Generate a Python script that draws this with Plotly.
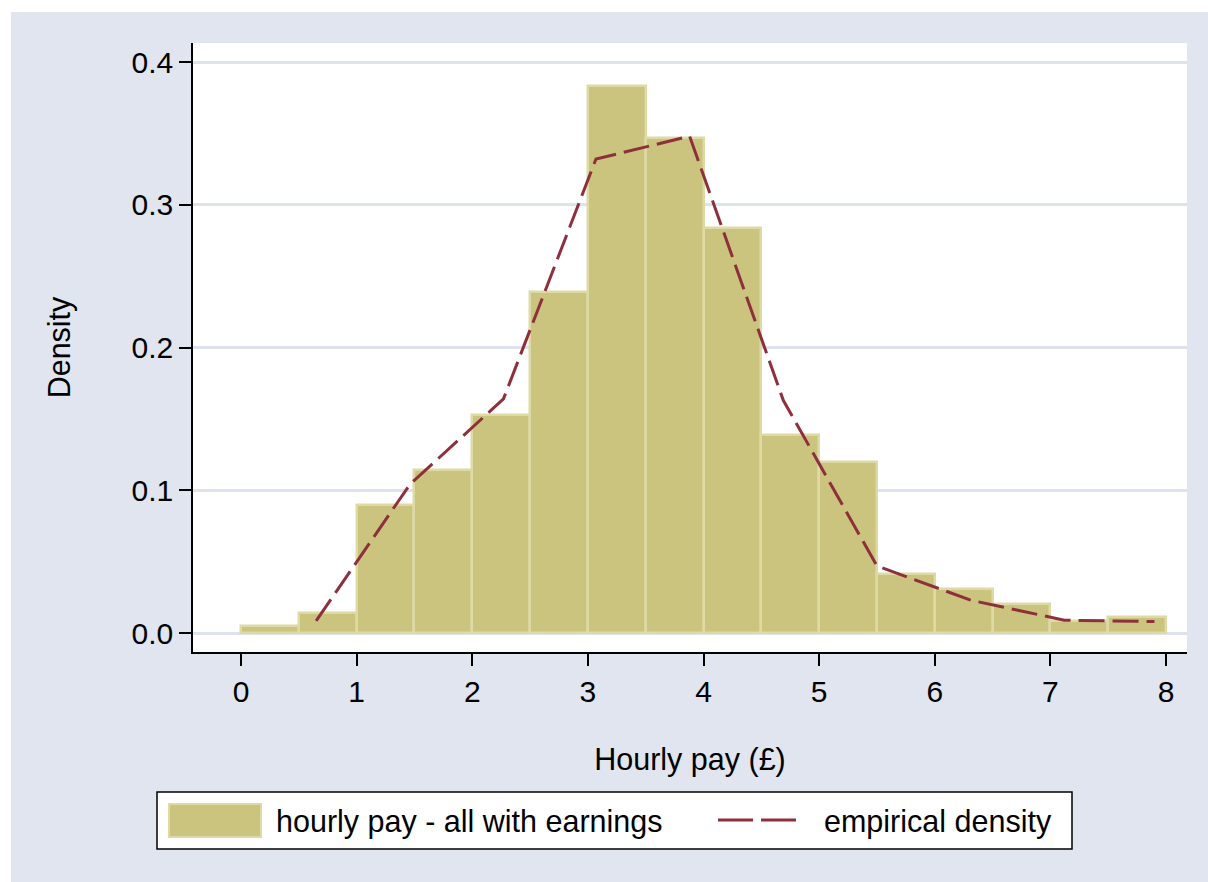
import plotly.graph_objects as go

# Histogram of hourly pay (bin width £0.50) and empirical density curve
bin_left = [0.0, 0.5, 1.0, 1.5, 2.0, 2.5, 3.0, 3.5, 4.0, 4.5, 5.0, 5.5, 6.0, 6.5, 7.0, 7.5]
bin_density = [0.005, 0.014, 0.090, 0.114, 0.153, 0.239, 0.383, 0.347,
               0.284, 0.139, 0.120, 0.041, 0.031, 0.020, 0.0085, 0.011]
bin_width = 0.5

kde_x = [0.65, 1.46, 2.27, 3.07, 3.88, 4.69, 5.50, 6.31, 7.12, 7.90]
kde_y = [0.0085, 0.104, 0.164, 0.332, 0.348, 0.163, 0.047, 0.023, 0.009, 0.008]

x_ticks = [0, 1, 2, 3, 4, 5, 6, 7, 8]
y_ticks = [0.0, 0.1, 0.2, 0.3, 0.4]

bar_fill = "#cbc47f"
bar_edge = "#dedaa4"
line_col = "#8e2f3c"
region_bg = "#e1e5ef"
grid_col = "#dde2ee"
FONT = "Liberation Sans, Arial, sans-serif"

W, H = 1208, 882
L, R, T, B = 193, 1187, 43, 652  # plot area in pixels


def px(x):
    return (x - L) / (R - L)


def py(y):
    return (B - y) / (B - T)


fig = go.Figure()
fig.add_trace(go.Bar(
    x=[b + bin_width / 2 for b in bin_left],
    y=bin_density,
    width=bin_width,
    marker=dict(color=bar_fill, line=dict(color=bar_edge, width=2.5)),
    name="hourly pay - all with earnings",
    showlegend=False,
))
fig.add_trace(go.Scatter(
    x=kde_x, y=kde_y, mode="lines",
    line=dict(color=line_col, width=3, dash="26px,8px"),
    name="empirical density",
    showlegend=False,
))

shapes = [
    # white strips framing the shaded graph region
    dict(type="rect", xref="paper", yref="paper", x0=px(0), x1=px(W), y0=py(0), y1=py(12),
         fillcolor="white", line=dict(width=0), layer="above"),
    dict(type="rect", xref="paper", yref="paper", x0=px(0), x1=px(11), y0=py(H), y1=py(0),
         fillcolor="white", line=dict(width=0), layer="above"),
    # legend box
    dict(type="rect", xref="paper", yref="paper", x0=px(157), x1=px(1072), y0=py(849), y1=py(792),
         fillcolor="white", line=dict(color="black", width=1.5), layer="above"),
    dict(type="rect", xref="paper", yref="paper", x0=px(169), x1=px(261), y0=py(837), y1=py(804),
         fillcolor=bar_fill, line=dict(color=bar_edge, width=2), layer="above"),
    dict(type="line", xref="paper", yref="paper", x0=px(718), x1=px(800), y0=py(820), y1=py(820),
         line=dict(color=line_col, width=3, dash="35px,8px"), layer="above"),
]

annotations = [
    dict(text="hourly pay - all with earnings", xref="paper", yref="paper",
         x=px(274), y=py(821), xanchor="left", yanchor="middle", showarrow=False,
         font=dict(family=FONT, size=30.5, color="black")),
    dict(text="empirical density", xref="paper", yref="paper",
         x=px(822), y=py(821), xanchor="left", yanchor="middle", showarrow=False,
         font=dict(family=FONT, size=30.5, color="black")),
]

fig.update_layout(
    width=W, height=H,
    margin=dict(l=L, r=W - R, t=T, b=H - B, pad=0),
    paper_bgcolor=region_bg,
    plot_bgcolor="white",
    font=dict(family=FONT, size=30, color="black"),
    bargap=0,
    shapes=shapes,
    annotations=annotations,
    showlegend=False,
)
fig.update_xaxes(
    range=[(L - 241) / 115.625, (R - 241) / 115.625],
    tickvals=x_ticks, ticktext=[str(v) for v in x_ticks],
    ticks="outside", ticklen=12, tickwidth=1.5, tickcolor="black",
    showline=True, linecolor="black", linewidth=1.5,
    showgrid=False, zeroline=False,
    title=dict(text="Hourly pay (£)", font=dict(size=30.5), standoff=42),
    tickfont=dict(size=30),
)
fig.update_yaxes(
    range=[(633 - B) / 1427.5, (633 - T) / 1427.5],
    tickvals=y_ticks, tickformat=".1f",
    ticks="outside", ticklen=12, tickwidth=1.5, tickcolor="black",
    showline=True, linecolor="black", linewidth=1.5,
    showgrid=True, gridcolor=grid_col, gridwidth=2.5,
    zeroline=False,
    title=dict(text="Density", font=dict(size=30.5), standoff=52),
    tickfont=dict(size=30),
)

fig.write_html("out.html")
